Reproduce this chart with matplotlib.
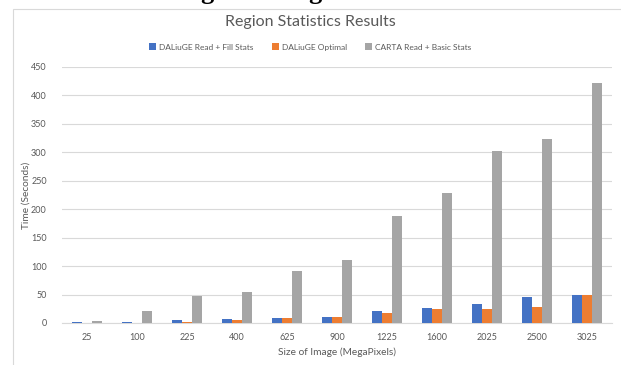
import numpy as np
import matplotlib.pyplot as plt
from matplotlib.patches import Rectangle

plt.rcParams['font.family'] = ['Lato', 'DejaVu Sans']

sizes = ['25', '100', '225', '400', '625', '900', '1225', '1600', '2025', '2500', '3025']
daliuge_fill = [1, 2, 5.3, 7, 8.8, 9.9, 21, 26.5, 33.5, 46.5, 50]
daliuge_opt = [0.5, 0.5, 2.3, 4.6, 8.8, 9.9, 17.7, 24, 24, 28, 50]
carta_basic = [4, 20.5, 48, 54, 91, 110, 188, 229, 302, 324, 421]

blue = '#4472C4'
orange = '#ED7D31'
gray = '#A5A5A5'
txt = '#595959'

fig = plt.figure(figsize=(6.21, 3.65), dpi=100)
# chart frame (runs off the right and bottom edges)
fig.patches.append(Rectangle((13 / 621, -0.1), 2, 1.1 - 9 / 365, transform=fig.transFigure,
                             fill=False, edgecolor='#D9D9D9', linewidth=0.8))

# descenders of the document heading, cut off at the top of the screenshot
for gx in [207 / 621, 315 / 621]:
    fig.text(gx, 1 + 1.5 / 365, 'g', ha='center', va='baseline', fontsize=19,
             family='Liberation Serif', weight='bold', color='black')

ax = fig.add_axes([62 / 621, 42 / 365, 550 / 621, 256 / 365])
x = np.arange(len(sizes))
w = 0.2
ax.bar(x - w, daliuge_fill, w, color=blue, label='DALiuGE Read + Fill Stats', zorder=3)
ax.bar(x, daliuge_opt, w, color=orange, label='DALiuGE Optimal', zorder=3)
ax.bar(x + w, carta_basic, w, color=gray, label='CARTA Read + Basic Stats', zorder=3)

ax.set_xlim(-0.5, len(sizes) - 0.5)
ax.set_ylim(0, 450)
ax.set_yticks(range(0, 451, 50))
ax.set_xticks(x)
ax.set_xticklabels(sizes)
ax.yaxis.grid(True, color='#D9D9D9', linewidth=0.8, zorder=0)
for s in ['top', 'right', 'left']:
    ax.spines[s].set_visible(False)
ax.spines['bottom'].set_color('#D9D9D9')
ax.tick_params(length=0, labelsize=6.5, colors=txt, pad=7)
ax.tick_params(axis='y', pad=11)

ax.set_xlabel('Size of Image (MegaPixels)', fontsize=7.3, color=txt, labelpad=4)
ax.set_ylabel('Time (Seconds)', fontsize=7.3, color=txt)
ax.yaxis.set_label_coords(-0.058, 0.5)

fig.text(0.5, 1 - 22 / 365, 'Region Statistics Results', ha='center', va='center',
         fontsize=11.5, color=txt)
fig.legend(loc='center', bbox_to_anchor=(0.5, 1 - 47 / 365), ncol=3, frameon=False,
           prop={'size': 6}, labelcolor=txt, handlelength=0.8, handleheight=0.8,
           handletextpad=0.4, columnspacing=2.2)

fig.savefig('out.png', dpi=100)
